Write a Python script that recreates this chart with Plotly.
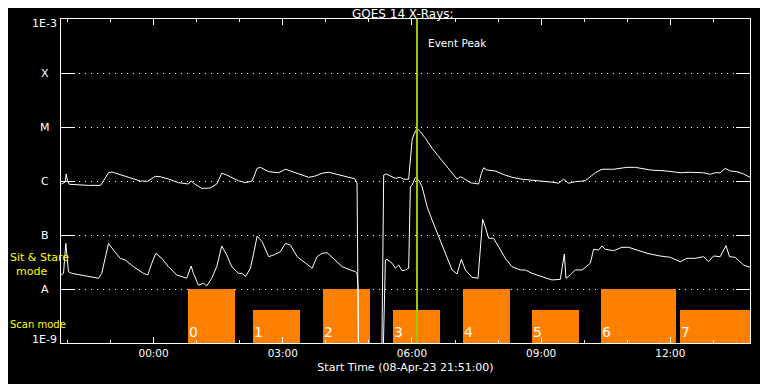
import numpy as np
import pandas as pd
import plotly.graph_objects as go

START = pd.Timestamp("2023-04-08 21:51:00")
SPAN_MIN = 960

# GOES long channel (1-8 A), minutes after start, flux in 1e-6 W/m^2
long_t = [0.3, 5.8, 7.2, 9.1, 11.4, 22.0, 38.3, 55.4, 61.6, 66.2, 70.8, 82.5, 94.0, 110.3, 120.9,
          131.2, 138.2, 149.7, 163.7, 177.6, 181.3, 186.9, 196.1, 207.8, 217.0, 224.0, 230.9, 247.2,
          257.0, 266.3, 273.3, 277.9, 289.4, 303.4, 312.7, 326.6, 345.1, 354.5, 363.8, 373.0, 386.9,
          400.9, 409.2, 412.5, 413.9, 415.0, 446.4, 449.6, 452.9, 465.9, 472.9, 477.5, 484.4, 486.8,
          489.2, 491.4, 496.1, 500.7, 507.7, 517.0, 526.2, 540.1, 551.8, 556.4, 561.0, 570.4, 581.9,
          585.7, 588.9, 593.6, 605.2, 614.5, 628.4, 642.4, 656.3, 670.2, 684.1, 693.3, 700.3, 707.3,
          716.6, 730.5, 735.1, 744.5, 753.8, 769.9, 788.6, 800.2, 821.0, 844.3, 862.8, 876.7, 895.3,
          904.6, 911.6, 918.5, 925.5, 932.5, 941.8, 951.0, 960.0]
long_v = [0.87, 0.96, 1.35, 1.01, 0.87, 0.85, 0.83, 0.83, 1.12, 1.42, 1.47, 1.31, 1.20, 1.00, 0.99,
          1.22, 1.20, 1.09, 0.93, 0.88, 1.00, 0.87, 0.73, 0.74, 0.88, 1.39, 1.29, 1.01,
          0.93, 1.00, 1.72, 1.79, 1.49, 1.42, 1.65, 1.42, 1.17, 1.24, 1.39, 1.45, 1.29,
          1.17, 1.10, 0.91, 0.00131, 0.0001, 0.0001, 1.29, 1.35, 1.12, 1.17, 1.08, 1.08, 3.03,
          5.75, 7.1, 9.45, 8.2, 6.2, 4.04, 2.82, 1.72, 1.08, 1.20, 1.12, 0.93, 0.88,
          1.39, 1.76, 1.6, 1.53, 1.35, 1.17, 1.08, 1.04, 1.00, 0.95, 0.91, 1.08, 0.91,
          0.97, 1.01, 1.12, 1.42, 1.65, 1.65, 1.79, 1.79, 1.6, 1.53, 1.42, 1.45, 1.42,
          1.33, 1.42, 1.42, 1.72, 1.53, 1.49, 1.35, 1.17]

# GOES short channel (0.5-4 A), minutes after start, flux in 1e-7 W/m^2
short_t = [0.3, 3.5, 6.7, 8.1, 10.4, 15.0, 29.0, 42.9, 52.2, 56.8,
           61.6, 66.2, 73.1, 82.5, 89.4, 101.0, 114.9, 120.9, 126.5, 132.1,
           140.4, 149.7, 161.3, 175.2, 181.3, 184.5, 191.5, 198.5, 203.1, 210.0,
           217.0, 224.0, 230.9, 237.9, 247.2, 252.4, 257.0, 263.9, 268.5, 273.3,
           280.2, 289.4, 296.4, 305.7, 312.7, 319.6, 329.0, 340.5, 349.9, 356.8,
           363.8, 370.8, 382.3, 391.7, 403.2, 410.2, 412.5, 413.9, 415.0, 447.5,
           452.0, 454.3, 461.3, 465.9, 470.5, 475.2, 479.8, 484.4, 486.8, 489.2,
           493.8, 498.4, 503.1, 510.1, 517.0, 526.2, 535.5, 544.9, 551.8, 557.8,
           563.4, 572.7, 581.1, 584.3, 587.5, 591.2, 595.8, 602.8, 609.8, 619.1,
           628.4, 640.0, 647.0, 656.3, 670.2, 684.1, 695.7, 701.3, 703.6, 709.6,
           716.6, 725.9, 730.5, 737.5, 742.1, 749.0, 753.8, 758.4, 769.9, 781.6,
           790.9, 807.2, 816.5, 835.0, 848.9, 862.8, 872.2, 883.7, 895.3, 902.3,
           909.2, 918.5, 926.5, 931.5, 939.4, 951.0, 960.0]
short_v = [0.182, 0.195, 0.70, 0.458, 0.209, 0.195, 0.182, 0.169, 0.158, 0.195,
           0.397, 0.70, 0.527, 0.37, 0.344, 0.259, 0.195, 0.182, 0.30, 0.458,
           0.37, 0.259, 0.182, 0.158, 0.267, 0.195, 0.118, 0.128, 0.114, 0.158,
           0.259, 0.626, 0.426, 0.259, 0.195, 0.195, 0.169, 0.242, 0.458, 0.958,
           0.751, 0.397, 0.426, 0.49, 0.70, 0.653, 0.397, 0.30, 0.242, 0.397,
           0.458, 0.47, 0.344, 0.259, 0.225, 0.209, 0.195, 0.11, 0.001, 0.001,
           0.344, 0.355, 0.30, 0.242, 0.278, 0.218, 0.225, 0.242, 7.84, 8.4,
           11.7, 10.4, 7.84, 3.34, 1.9, 0.93, 0.458, 0.225, 0.19, 0.355,
           0.225, 0.165, 0.158, 0.607, 1.95, 1.42, 0.87, 0.87, 0.607, 0.37,
           0.259, 0.225, 0.225, 0.195, 0.169, 0.147, 0.151, 0.445, 0.158, 0.182,
           0.225, 0.225, 0.252, 0.30, 0.544, 0.527, 0.626, 0.544, 0.512, 0.592,
           0.592, 0.512, 0.458, 0.408, 0.386, 0.32, 0.37, 0.37, 0.397, 0.32,
           0.408, 0.397, 0.634, 0.397, 0.386, 0.278, 0.252]

# observing-mode blocks (minutes after start)
bar_labels = ["0", "1", "2", "3", "4", "5", "6", "7"]
bar_start = [177.6, 268.1, 365.6, 463.1, 560.6, 656.7, 752.8, 862.8]
bar_end = [243.0, 333.6, 430.7, 528.1, 626.1, 721.8, 856.9, 965.9]
bar_top = [1e-8, 4.1e-9, 1e-8, 4.1e-9, 1e-8, 4.1e-9, 1e-8, 4.1e-9]
BAR_BASE = 1e-9

peak_t = 496.0  # event peak, minutes after start

ytick_vals = [1e-9, 1e-8, 1e-7, 1e-6, 1e-5, 1e-4, 1e-3]
ytick_text = ["1E-9", "A", "B", "C", "M", "X", "1E-3"]
ytick_shift = [4, 0, 0, 0, 0, 0, -4]


def to_time(mins):
    return START + pd.to_timedelta(np.asarray(mins, dtype=float), unit="min")


FONT = "DejaVu Sans"
ORANGE = "#FF8000"
GREEN = "#99CC00"

# page has an 8px body margin: figure drawn at (8, 8) in the window
OFF = 8
W, H = 768 - OFF, 384 - OFF

fig = go.Figure()

bs = np.array(bar_start)
be = np.array(bar_end)
fig.add_trace(go.Bar(
    x=to_time((bs + be) / 2), y=np.array(bar_top) - BAR_BASE, base=BAR_BASE,
    width=(be - bs) * 60000.0, marker=dict(color=ORANGE, line=dict(width=0)),
    hoverinfo="skip"))

fig.add_trace(go.Scatter(x=to_time(long_t), y=np.array(long_v) * 1e-6, mode="lines",
                         line=dict(color="white", width=1)))
fig.add_trace(go.Scatter(x=to_time(short_t), y=np.array(short_v) * 1e-7, mode="lines",
                         line=dict(color="white", width=1)))
fig.add_trace(go.Scatter(x=to_time([peak_t, peak_t]), y=[ytick_vals[0], ytick_vals[-1]],
                         mode="lines", line=dict(color=GREEN, width=2)))

# plot area in window pixels: x 61..750, y 19..343
PL = 61 - OFF
PT = 19 - OFF
PR = W - (750 - OFF)
PB = H - (343 - OFF)
PW = W - PL - PR
PH = H - PT - PB


def px(xw):
    return (xw - 61) / PW


def py(yw):
    return (343 - yw) / PH


ann = []
for v, t, s in zip(ytick_vals, ytick_text, ytick_shift):
    ann.append(dict(x=px(44.5), xref="paper", y=np.log10(v), yref="y", text=t,
                    showarrow=False, xanchor="center", yanchor="middle", yshift=s,
                    font=dict(family=FONT, size=11, color="white")))
for lab, s in zip(bar_labels, bar_start):
    ann.append(dict(x=to_time([s])[0], xref="x", y=np.log10(BAR_BASE), yref="y", text=lab,
                    showarrow=False, xanchor="left", yanchor="bottom", xshift=-1, yshift=1,
                    font=dict(family=FONT, size=14, color="white")))
ann.append(dict(x=to_time([peak_t])[0], xref="x", y=-3.44, yref="y", text="Event Peak",
                showarrow=False, xanchor="left", yanchor="middle", xshift=9,
                font=dict(family=FONT, size=10.5, color="white")))
ann.append(dict(x=px(8), xref="paper", y=py(258), yref="paper", text="Sit & Stare",
                showarrow=False, xanchor="left", yanchor="middle",
                font=dict(family=FONT, size=11, color="#FFFF00")))
ann.append(dict(x=px(14), xref="paper", y=py(271), yref="paper", text="mode",
                showarrow=False, xanchor="left", yanchor="middle",
                font=dict(family=FONT, size=11, color="#FFFF00")))
ann.append(dict(x=px(8), xref="paper", y=py(324), yref="paper", text="Scan mode",
                showarrow=False, xanchor="left", yanchor="middle",
                font=dict(family=FONT, size=10, color="#FFFF00")))
ann.append(dict(x=px(403), xref="paper", y=py(13.5), yref="paper", text="GOES 14 X-Rays:",
                showarrow=False, xanchor="center", yanchor="middle",
                font=dict(family=FONT, size=12, color="white")))

fig.update_layout(
    width=W, height=H,
    paper_bgcolor="black", plot_bgcolor="black",
    margin=dict(l=PL, r=PR, t=PT, b=PB, autoexpand=False),
    showlegend=False, bargap=0,
    font=dict(family=FONT, color="white", size=11),
    annotations=ann,
)

fig.update_xaxes(
    type="date", range=[START, START + pd.Timedelta(minutes=SPAN_MIN)],
    showgrid=False, zeroline=False,
    showline=True, linecolor="white", linewidth=1, mirror="ticks",
    ticks="inside", ticklen=6, tickwidth=1, tickcolor="white",
    tick0="2023-04-09 00:00", dtick=3 * 3600000, tickformat="%H:%M",
    tickfont=dict(family=FONT, size=10.5, color="white"),
    minor=dict(tick0="2023-04-09 00:00", dtick=3600000, ticks="inside", ticklen=3,
               tickcolor="white", tickwidth=1, showgrid=False),
    title=dict(text="Start Time (08-Apr-23 21:51:00)", standoff=5,
               font=dict(family=FONT, size=11, color="white")),
)
fig.update_yaxes(
    type="log", range=[-9, -3], tickvals=ytick_vals, showticklabels=False,
    showline=True, linecolor="white", linewidth=1, mirror="ticks",
    ticks="inside", ticklen=14, tickwidth=1, tickcolor="white",
    showgrid=True, gridcolor="white", gridwidth=1, griddash="1px,5px",
    zeroline=False,
)

fig.write_html("out.html")
